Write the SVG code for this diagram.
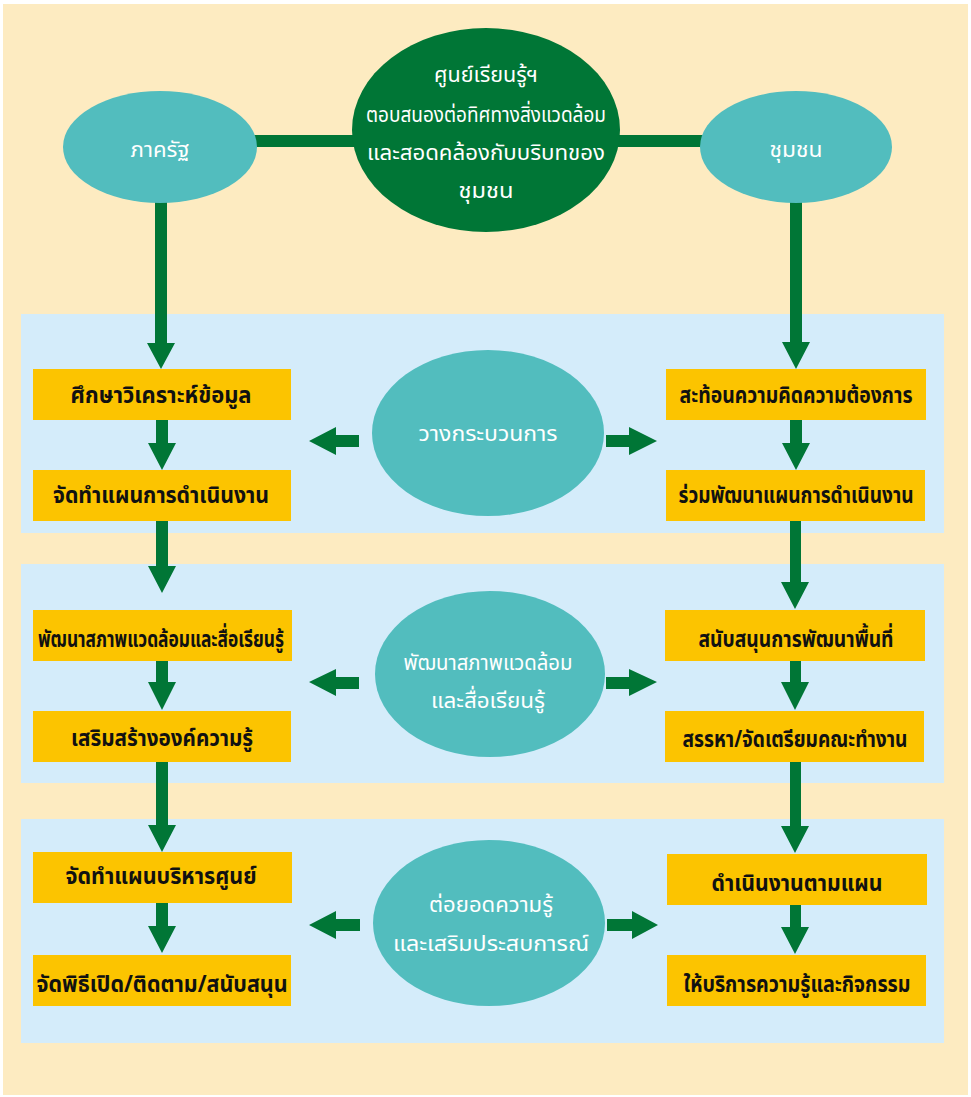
<svg xmlns="http://www.w3.org/2000/svg" width="971" height="1097" viewBox="0 0 971 1097">
<style>
.bg{fill:#FDEBC1}
.panel{fill:#D4ECFA}
.box{fill:#FCC400}
.teal{fill:#52BDBE}
.dark{fill:#007636}
.arr{fill:#007636}
.bt{font-family:"Noto Sans Thai","Leelawadee UI",Tahoma,"Noto Sans",sans-serif;font-size:23px;font-weight:bold;fill:#111;text-anchor:middle}
.wt{font-family:"Noto Sans Thai","Leelawadee UI",Tahoma,"Noto Sans",sans-serif;font-size:22px;fill:#fff;text-anchor:middle}
</style>
<rect x="0" y="0" width="971" height="1097" fill="#ffffff"/>
<rect class="bg" x="3" y="4" width="965" height="1091"/>
<rect class="panel" x="21" y="314" width="923" height="219"/>
<rect class="panel" x="21" y="564" width="923" height="219"/>
<rect class="panel" x="21" y="819" width="923" height="224"/>

<g id="connectors">
<rect class="arr" x="250" y="135" width="460" height="12"/>
<path class="arr" d="M155,200 V343 H147 L161,369 L175,343 H167 V200 Z"/>
<path class="arr" d="M790,200 V342 H782 L796,369 L810,342 H802 V200 Z"/>
<path class="arr" d="M156,420 V443 H148 L162,470 L176,443 H168 V420 Z"/>
<path class="arr" d="M790,420 V443 H782 L796,470 L810,443 H802 V420 Z"/>
<path class="arr" d="M156,521 V566 H148 L162,593 L176,566 H168 V521 Z"/>
<path class="arr" d="M790,521 V582 H781 L795,609 L809,582 H801 V521 Z"/>
<path class="arr" d="M156,661 V682 H148 L162,710 L176,682 H168 V661 Z"/>
<path class="arr" d="M790,661 V682 H781 L795,710 L809,682 H801 V661 Z"/>
<path class="arr" d="M156,762 V825 H148 L162,852 L176,825 H168 V762 Z"/>
<path class="arr" d="M790,762 V826 H781 L795,853 L809,826 H801 V762 Z"/>
<path class="arr" d="M156,903 V926 H148 L162,953 L176,926 H168 V903 Z"/>
<path class="arr" d="M790,905 V927 H781 L795,954 L809,927 H801 V905 Z"/>
<path class="arr" d="M359,435 H336 V427 L309,441 L336,455 V447 H359 Z"/>
<path class="arr" d="M606,435 H629 V427 L657,441 L629,455 V447 H606 Z"/>
<path class="arr" d="M359,677 H336 V669 L309,682 L336,696 V689 H359 Z"/>
<path class="arr" d="M606,677 H629 V669 L657,682 L629,696 V689 H606 Z"/>
<path class="arr" d="M360,919 H336 V911 L309,925 L336,939 V931 H360 Z"/>
<path class="arr" d="M607,919 H632 V911 L658,925 L632,939 V931 H607 Z"/>
</g>

<g id="n-state">
<ellipse class="teal" cx="160" cy="147" rx="97" ry="56"/>
<text class="wt" x="160" y="157" textLength="59" lengthAdjust="spacingAndGlyphs">ภาครัฐ</text>
</g>
<g id="n-community">
<ellipse class="teal" cx="796" cy="147" rx="96" ry="56"/>
<text class="wt" x="796" y="157" textLength="53" lengthAdjust="spacingAndGlyphs">ชุมชน</text>
</g>
<g id="n-center">
<ellipse class="dark" cx="486" cy="130" rx="134" ry="102"/>
<text class="wt" x="486" y="82" textLength="104" lengthAdjust="spacingAndGlyphs">ศูนย์เรียนรู้ฯ</text>
<text class="wt" x="486" y="122" textLength="240" lengthAdjust="spacingAndGlyphs">ตอบสนองต่อทิศทางสิ่งแวดล้อม</text>
<text class="wt" x="486" y="160" textLength="238" lengthAdjust="spacingAndGlyphs">และสอดคล้องกับบริบทของ</text>
<text class="wt" x="486" y="198" textLength="55" lengthAdjust="spacingAndGlyphs">ชุมชน</text>
</g>

<g id="n-plan">
<ellipse class="teal" cx="488" cy="433" rx="116" ry="83"/>
<text class="wt" x="488" y="441" textLength="139" lengthAdjust="spacingAndGlyphs">วางกระบวนการ</text>
</g>
<g id="n-develop">
<ellipse class="teal" cx="490" cy="674" rx="115" ry="83"/>
<text class="wt" x="488" y="670" textLength="169" lengthAdjust="spacingAndGlyphs">พัฒนาสภาพแวดล้อม</text>
<text class="wt" x="488" y="708" textLength="114" lengthAdjust="spacingAndGlyphs">และสื่อเรียนรู้</text>
</g>
<g id="n-extend">
<ellipse class="teal" cx="489" cy="923" rx="116" ry="83"/>
<text class="wt" x="491" y="912" textLength="124" lengthAdjust="spacingAndGlyphs">ต่อยอดความรู้</text>
<text class="wt" x="491" y="951" textLength="196" lengthAdjust="spacingAndGlyphs">และเสริมประสบการณ์</text>
</g>

<g id="b-l1"><rect class="box" x="33" y="369" width="258" height="51"/><text class="bt" x="161" y="403" textLength="181" lengthAdjust="spacingAndGlyphs">ศึกษาวิเคราะห์ข้อมูล</text></g>
<g id="b-l2"><rect class="box" x="33" y="470" width="258" height="51"/><text class="bt" x="161" y="503" textLength="216" lengthAdjust="spacingAndGlyphs">จัดทำแผนการดำเนินงาน</text></g>
<g id="b-r1"><rect class="box" x="666" y="369" width="260" height="51"/><text class="bt" x="796" y="403" textLength="233" lengthAdjust="spacingAndGlyphs">สะท้อนความคิดความต้องการ</text></g>
<g id="b-r2"><rect class="box" x="666" y="470" width="259" height="51"/><text class="bt" x="796" y="503" textLength="235" lengthAdjust="spacingAndGlyphs">ร่วมพัฒนาแผนการดำเนินงาน</text></g>

<g id="b-l3"><rect class="box" x="33" y="610" width="259" height="51"/><text class="bt" x="161" y="647" textLength="246" lengthAdjust="spacingAndGlyphs">พัฒนาสภาพแวดล้อมและสื่อเรียนรู้</text></g>
<g id="b-l4"><rect class="box" x="33" y="711" width="258" height="51"/><text class="bt" x="162" y="746" textLength="182" lengthAdjust="spacingAndGlyphs">เสริมสร้างองค์ความรู้</text></g>
<g id="b-r3"><rect class="box" x="665" y="610" width="260" height="51"/><text class="bt" x="796" y="647" textLength="195" lengthAdjust="spacingAndGlyphs">สนับสนุนการพัฒนาพื้นที่</text></g>
<g id="b-r4"><rect class="box" x="665" y="711" width="259" height="51"/><text class="bt" x="795" y="747" textLength="225" lengthAdjust="spacingAndGlyphs">สรรหา/จัดเตรียมคณะทำงาน</text></g>

<g id="b-l5"><rect class="box" x="33" y="852" width="259" height="51"/><text class="bt" x="161" y="884" textLength="191" lengthAdjust="spacingAndGlyphs">จัดทำแผนบริหารศูนย์</text></g>
<g id="b-l6"><rect class="box" x="33" y="955" width="258" height="51"/><text class="bt" x="162" y="992" textLength="251" lengthAdjust="spacingAndGlyphs">จัดพิธีเปิด/ติดตาม/สนับสนุน</text></g>
<g id="b-r5"><rect class="box" x="667" y="854" width="260" height="51"/><text class="bt" x="797" y="891" textLength="171" lengthAdjust="spacingAndGlyphs">ดำเนินงานตามแผน</text></g>
<g id="b-r6"><rect class="box" x="667" y="955" width="259" height="51"/><text class="bt" x="797" y="992" textLength="227" lengthAdjust="spacingAndGlyphs">ให้บริการความรู้และกิจกรรม</text></g>
</svg>
